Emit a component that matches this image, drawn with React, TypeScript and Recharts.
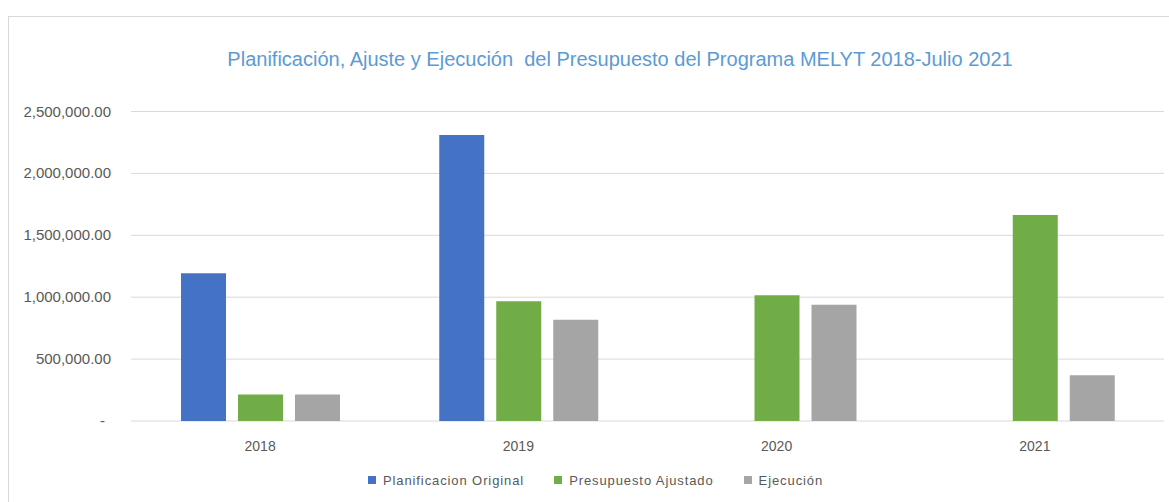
import React from 'react';
import { BarChart, Bar, XAxis, YAxis, CartesianGrid, Legend } from 'recharts';

const categories = ['2018', '2019', '2020', '2021'];
const planificacionOriginal = [1193000, 2310000, null, null];
const presupuestoAjustado = [215000, 968000, 1015000, 1664000];
const ejecucion = [215000, 818000, 939000, 369000];
const yTicks = [0, 500000, 1000000, 1500000, 2000000, 2500000];

const seriesInfo = [
  { key: 'plan', name: 'Planificacion Original', color: '#4472C4' },
  { key: 'pres', name: 'Presupuesto Ajustado', color: '#70AD47' },
  { key: 'ejec', name: 'Ejecución', color: '#A5A5A5' },
];

const data = categories.map((c, i) => ({
  year: c,
  plan: planificacionOriginal[i],
  pres: presupuestoAjustado[i],
  ejec: ejecucion[i],
}));

const FONT = '"Liberation Sans", Arial, sans-serif';
const TEXT = '#595959';

const fmt = (v: number) =>
  v === 0 ? '-' : v.toLocaleString('en-US', { minimumFractionDigits: 2, maximumFractionDigits: 2 });

const YTick = (props: any) => {
  const { x, y, payload } = props;
  const isZero = payload.value === 0;
  return (
    <text x={isZero ? x - 6 : x} y={y} dy={5} textAnchor="end" fill={TEXT} fontSize={15} fontFamily={FONT}>
      {fmt(payload.value)}
    </text>
  );
};

const LegendContent = () => (
  <div style={{ height: 18, display: 'flex', justifyContent: 'center', alignItems: 'center', paddingLeft: 27, fontFamily: FONT, fontSize: 13, color: TEXT, letterSpacing: 0.9 }}>
    {seriesInfo.map((s, i) => (
      <div key={s.key} style={{ display: 'flex', alignItems: 'center', marginLeft: i === 0 ? 0 : 30 }}>
        <span style={{ width: 8, height: 8, background: s.color, display: 'inline-block', marginRight: 7 }} />
        <span>{s.name}</span>
      </div>
    ))}
  </div>
);

export default function App() {
  return (
    <div style={{ position: 'fixed', left: 0, top: 0, width: 1169, height: 502, overflow: 'hidden', background: '#fff' }}>
      <div style={{ position: 'absolute', left: 8, top: 16, width: 1300, height: 600, border: '1px solid #D9D9D9', boxSizing: 'border-box' }} />
      <div style={{ position: 'absolute', left: 0, top: 48, width: 1240, textAlign: 'center', fontFamily: FONT, fontSize: 20, color: '#5B9BD5', whiteSpace: 'pre' }}>
        {'Planificación, Ajuste y Ejecución  del Presupuesto del Programa MELYT 2018-Julio 2021'}
      </div>
      <div style={{ position: 'absolute', left: 0, top: 0 }}>
        <BarChart width={1169} height={502} data={data} margin={{ top: 111.5, right: 5, left: 0, bottom: 13 }} barSize={45} barGap={12}>
          <CartesianGrid vertical={false} stroke="#D9D9D9" strokeWidth={1} />
          <XAxis dataKey="year" axisLine={false} tickLine={false} height={50} tickMargin={14} tick={{ fill: TEXT, fontSize: 14, fontFamily: FONT }} />
          <YAxis width={131} domain={[0, 2500000]} ticks={yTicks} axisLine={false} tickLine={false} tickSize={6} tickMargin={14} tick={<YTick />} interval={0} />
          <Legend verticalAlign="bottom" content={<LegendContent />} />
          {seriesInfo.map((s) => (
            <Bar key={s.key} dataKey={s.key} name={s.name} fill={s.color} isAnimationActive={false} />
          ))}
        </BarChart>
      </div>
    </div>
  );
}
